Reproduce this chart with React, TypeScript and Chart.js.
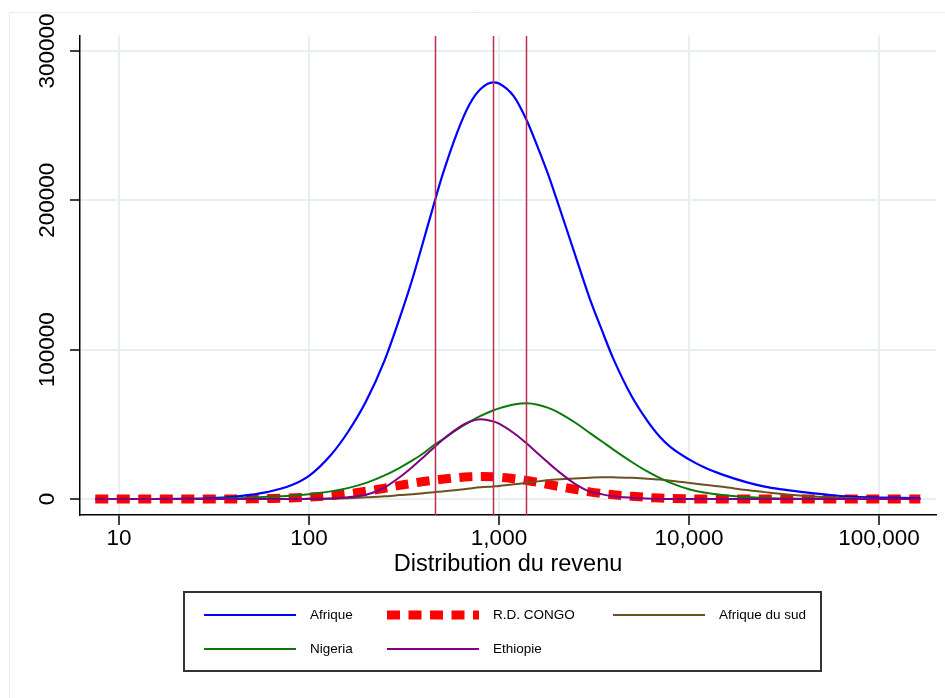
import React, { useEffect, useRef } from 'react';
import { Chart, registerables } from 'chart.js';

Chart.register(...registerables);

// Income grid (x values, log scale)
const incomes = [
  7.5, 10, 15, 20, 30, 40, 50, 60, 80, 100, 130, 160, 200, 250, 300, 350, 400, 455, 500,
  600, 700, 800, 930, 1000, 1200, 1400, 1600, 1800, 2000, 2500, 3000, 3500, 4000, 5000,
  6000, 7000, 8000, 10000, 12000, 15000, 20000, 25000, 30000, 40000, 50000, 70000,
  100000, 130000, 165000,
];

const afrique = [
  0, 0, 0, 100, 500, 1400, 2900, 4600, 9000, 15500, 29300, 44700, 65600, 92800, 121100,
  147300, 172800, 197700, 215500, 244900, 264300, 274500, 279000, 278300, 269500, 253500,
  235500, 218500, 201600, 164500, 134400, 112200, 93800, 68600, 52800, 41800, 34700,
  26500, 21200, 16300, 11300, 8300, 6600, 4600, 3300, 1600, 1000, 700, 500,
];

const rdCongo = [
  0, 0, 0, 0, 0, 0, 100, 300, 700, 1300, 2300, 3500, 5200, 7200, 9100, 10500, 11700, 12600,
  13200, 14300, 14900, 15100, 14900, 14600, 13600, 12400, 11100, 9800, 8700, 6500, 4800,
  3700, 2900, 1800, 1100, 600, 300, 100, 0, 0, 0, 0, 0, 0, 0, 0, 0, 0, 0,
];

const afriqueSud = [
  0, 0, 0, 0, 0, 0, 0, 0, 0, 100, 250, 500, 1100, 1800, 2600, 3200, 3900, 4600, 5000, 6000,
  7000, 7800, 8400, 8700, 9800, 10900, 11800, 12500, 13000, 13800, 14300, 14600, 14500,
  14200, 13600, 13000, 12300, 10800, 9600, 8200, 6000, 4600, 3500, 2200, 1400, 600, 200,
  100, 0,
];

const nigeria = [
  0, 0, 0, 0, 200, 500, 900, 1500, 2200, 3200, 5100, 7300, 10800, 15800, 20900, 25800,
  30600, 36200, 39500, 46400, 51600, 55600, 59300, 60700, 63300, 64100, 63100, 61200,
  58700, 51400, 44300, 38300, 33100, 24800, 18600, 14100, 10800, 6500, 4300, 2700, 1400,
  700, 400, 200, 100, 0, 0, 0, 0,
];

const ethiopie = [
  0, 0, 0, 0, 0, 0, 0, 0, 0, 100, 300, 1200, 2800, 7700, 14600, 21500, 28000, 34500,
  39200, 47000, 51700, 53400, 52000, 50500, 44000, 37100, 30500, 24700, 19700, 10300, 5000,
  3100, 1800, 800, 300, 100, 0, 0, 0, 0, 0, 0, 0, 0, 0, 0, 0, 0, 0,
];

const seriesLabels = ['Afrique', 'R.D. CONGO', 'Afrique du sud', 'Nigeria', 'Ethiopie'];
const referenceLines = [458, 932, 1383];
const xTickValues = [10, 100, 1000, 10000, 100000];
const yTickValues = [0, 100000, 200000, 300000];
const xTitle = 'Distribution du revenu';

const FONT = "'Liberation Sans', Arial, Helvetica, sans-serif";

export default function App() {
  const canvasRef = useRef<HTMLCanvasElement | null>(null);

  useEffect(() => {
    if (!canvasRef.current) return;
    const toPoints = (ys: number[]) => incomes.map((x, i) => ({ x, y: ys[i] }));

    const framePlugin = {
      id: 'frame',
      beforeDraw(chart: any) {
        const ctx = chart.ctx;
        ctx.save();
        ctx.fillStyle = '#ffffff';
        ctx.fillRect(0, 0, chart.width, chart.height);
        ctx.strokeStyle = '#e6ecee';
        ctx.lineWidth = 1;
        ctx.beginPath();
        ctx.moveTo(9.5, chart.height);
        ctx.lineTo(9.5, 12.5);
        ctx.lineTo(chart.width, 12.5);
        ctx.stroke();
        ctx.restore();
      },
    };

    const refLinePlugin = {
      id: 'refLines',
      afterDatasetsDraw(chart: any) {
        const { ctx, chartArea, scales } = chart;
        ctx.save();
        ctx.strokeStyle = '#bb2c4c';
        ctx.lineWidth = 1.5;
        referenceLines.forEach((v) => {
          const px = Math.round(scales.x.getPixelForValue(v)) + 0.5;
          ctx.beginPath();
          ctx.moveTo(px, chartArea.top);
          ctx.lineTo(px, chartArea.bottom);
          ctx.stroke();
        });
        ctx.restore();
      },
    };

    const legendPlugin = {
      id: 'boxLegend',
      afterDraw(chart: any) {
        const ctx = chart.ctx;
        ctx.save();
        ctx.strokeStyle = '#333333';
        ctx.lineWidth = 2;
        ctx.strokeRect(184, 592, 637, 79);
        const slots = [
          [204, 615],
          [387, 615],
          [613, 615],
          [204, 649],
          [387, 649],
        ];
        chart.data.datasets.forEach((ds: any, i: number) => {
          const [x, y] = slots[i];
          ctx.save();
          ctx.strokeStyle = ds.borderColor;
          ctx.lineWidth = ds.borderWidth;
          ctx.lineCap = 'butt';
          ctx.setLineDash(ds.borderDash || []);
          ctx.beginPath();
          ctx.moveTo(x, y);
          ctx.lineTo(x + 92, y);
          ctx.stroke();
          ctx.restore();
          ctx.fillStyle = '#000';
          ctx.font = `13.5px ${FONT}`;
          ctx.textBaseline = 'middle';
          ctx.textAlign = 'left';
          ctx.fillText(ds.label, x + 106, y);
        });
        ctx.restore();
      },
    };

    const chart = new Chart(canvasRef.current, {
      type: 'line',
      data: {
        datasets: [
          {
            label: seriesLabels[0],
            data: toPoints(afrique),
            borderColor: '#0000ff',
            borderWidth: 2.2,
            order: 4,
          },
          {
            label: seriesLabels[1],
            data: toPoints(rdCongo),
            borderColor: '#ff0000',
            borderWidth: 9,
            borderDash: [13, 8.5],
            borderCapStyle: 'butt',
            order: 10,
          },
          {
            label: seriesLabels[2],
            data: toPoints(afriqueSud),
            borderColor: '#6b5020',
            borderWidth: 2,
            order: 3,
          },
          {
            label: seriesLabels[3],
            data: toPoints(nigeria),
            borderColor: '#0b7a0b',
            borderWidth: 2,
            order: 2,
          },
          {
            label: seriesLabels[4],
            data: toPoints(ethiopie),
            borderColor: '#800080',
            borderWidth: 2,
            order: 1,
          },
        ],
      },
      options: {
        animation: false,
        responsive: false,
        maintainAspectRatio: false,
        layout: { padding: { left: 0, top: 36, right: 9, bottom: 0 } },
        plugins: {
          legend: { display: false },
          tooltip: { enabled: false },
          title: { display: false },
        },
        elements: {
          point: { radius: 0, hoverRadius: 0 },
          line: { cubicInterpolationMode: 'monotone', fill: false },
        },
        scales: {
          x: {
            type: 'logarithmic',
            min: 6.233,
            max: 199526,
            afterBuildTicks: (s: any) => {
              s.ticks = xTickValues.map((v) => ({ value: v }));
            },
            afterFit: (s: any) => {
              s.height = 183;
            },
            ticks: {
              autoSkip: false,
              maxRotation: 0,
              minRotation: 0,
              padding: 0,
              color: '#000',
              font: { family: FONT, size: 22.5 },
              callback: (v: any) => Number(v).toLocaleString('en-US'),
            },
            grid: {
              color: '#e8eff2',
              lineWidth: 2,
              tickColor: '#000',
              tickWidth: 1.5,
              tickLength: 10,
              drawTicks: true,
            },
            border: { color: '#000', width: 1.5 },
            title: {
              display: true,
              text: xTitle,
              color: '#000',
              font: { family: FONT, size: 23.5 },
              padding: { top: 0, bottom: 119 },
            },
          },
          y: {
            type: 'linear',
            min: -10714,
            max: 310045,
            afterBuildTicks: (s: any) => {
              s.ticks = yTickValues.map((v) => ({ value: v }));
            },
            afterFit: (s: any) => {
              s.width = 80;
            },
            ticks: {
              minRotation: 90,
              maxRotation: 90,
              crossAlign: 'center',
              padding: -15,
              color: '#000',
              font: { family: FONT, size: 22.5 },
              callback: (v: any) => String(v),
            },
            grid: {
              color: '#e8eff2',
              lineWidth: 2,
              tickColor: '#000',
              tickWidth: 1.5,
              tickLength: 10,
              drawTicks: true,
            },
            border: { color: '#000', width: 1.5 },
          },
        },
      },
      plugins: [framePlugin, refLinePlugin, legendPlugin],
    } as any);

    return () => chart.destroy();
  }, []);

  return (
    <div style={{ position: 'fixed', left: 0, top: 0, width: 945, height: 698, background: '#fff' }}>
      <canvas ref={canvasRef} width={945} height={698} style={{ width: 945, height: 698, display: 'block' }} />
    </div>
  );
}
